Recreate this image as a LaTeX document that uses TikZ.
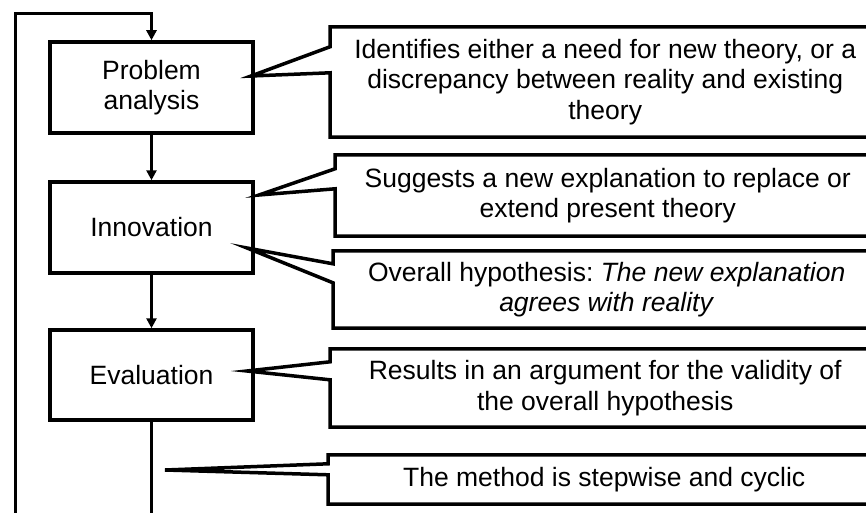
\documentclass[tikz,border=0pt]{standalone}
\usepackage{fontspec}
\setmainfont{Liberation Sans}
\usetikzlibrary{arrows.meta,calc}
\frenchspacing
\begin{document}
\begin{tikzpicture}[x=1pt,y=-1pt,
  txt/.style={font=\fontsize{26.5}{30.5}\selectfont},
  stage/.style={txt,draw,line width=3.5pt,minimum width=203pt,minimum height=91pt,
    align=center,inner sep=0pt},
  note/.style={txt,minimum height=#1,inner sep=0pt,anchor=west,align=center},
  outline/.style={line width=3.5pt,line join=miter,miter limit=20},
  flow/.style={line width=3pt,-{Triangle[length=10pt,width=10pt]}},
  wire/.style={line width=3pt}]
\useasboundingbox (0,0) rectangle (866,513);
\clip (0,0) rectangle (866,513);

% process stages
\node[stage] (pa) at (151.5,87.5) {Problem\\analysis};
\node[stage] (in) at (151.5,227.5) {Innovation};
\node[stage,minimum height=90pt] (ev) at (151.5,375) {Evaluation};

\draw[flow] (pa) -- (in);
\draw[flow] (in) -- (ev);

% feedback loop back to the first stage
\coordinate (lb) at (151.5,540);
\coordinate (ll) at (15,540);
\coordinate (lt) at (15,14);
\draw[wire,line join=miter,-{Triangle[length=10pt,width=10pt]}]
  (ev.south) -- (lb) -- (ll) -- (lt) -- (lt -| pa.north) -- (pa.north);

% callout texts
\node[note=110pt,minimum width=550pt] (c1) at (330,82)
  {Identifies either a need for new theory, or a\\discrepancy between reality and existing\\theory};
\node[note=81pt,minimum width=545pt] (c2) at (335,195.5)
  {Suggests a new explanation to replace or\\extend present theory};
\node[note=77pt,minimum width=547pt] (c3) at (333,289.5)
  {Overall hypothesis: \textit{The new explanation}\\\textit{agrees with reality}};
\node[note=78pt,minimum width=550pt] (c4) at (330,388)
  {Results in an argument for the validity of\\the overall hypothesis};
\node[note=49pt,minimum width=552pt] (c5) at (328,479.5)
  {The method is stepwise and cyclic};

% callout pointer tips
\coordinate (t1) at (251,76);
\coordinate (t2) at (259,195);
\coordinate (t3) at (247,248);
\coordinate (t4) at (247,371);
\coordinate (t5) at (165,470);

% callout outlines with pointers
\draw[outline] ($(c1.north west)+(0,20)$) -- (c1.north west) -- (c1.north east)
  -- (c1.south east) -- (c1.south west) -- ($(c1.north west)+(0,46)$) -- (t1) -- cycle;
\draw[outline] ($(c2.north west)+(0,14)$) -- (c2.north west) -- (c2.north east)
  -- (c2.south east) -- (c2.south west) -- ($(c2.north west)+(0,34)$) -- (t2) -- cycle;
\draw[outline] ($(c3.north west)+(0,13)$) -- (c3.north west) -- (c3.north east)
  -- (c3.south east) -- (c3.south west) -- ($(c3.north west)+(0,32)$) -- (t3) -- cycle;
\draw[outline] ($(c4.north west)+(0,13)$) -- (c4.north west) -- (c4.north east)
  -- (c4.south east) -- (c4.south west) -- ($(c4.north west)+(0,31)$) -- (t4) -- cycle;
\draw[outline] ($(c5.north west)+(0,9)$) -- (c5.north west) -- (c5.north east)
  -- (c5.south east) -- (c5.south west) -- ($(c5.north west)+(0,20)$) -- (t5) -- cycle;
\end{tikzpicture}
\end{document}
